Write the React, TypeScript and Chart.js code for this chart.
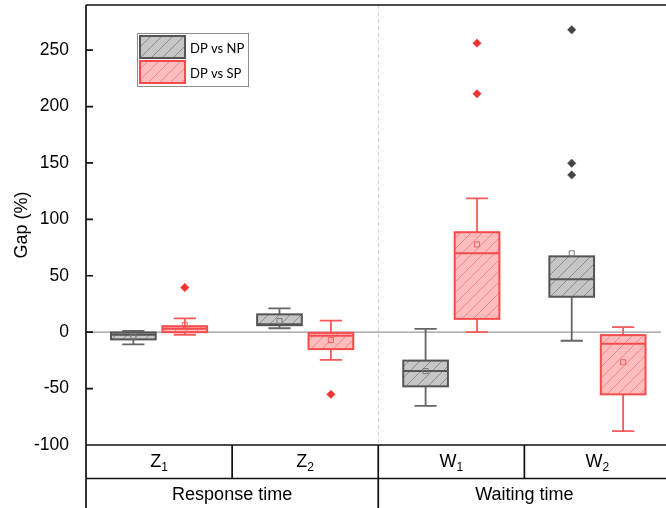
import React, { useEffect, useRef } from 'react';
import { Chart, registerables } from 'chart.js';

Chart.register(...registerables);

// ---------- data ----------
const categoryLetters = ['Z', 'Z', 'W', 'W'];
const categorySubs = ['1', '2', '1', '2'];
const groupLabels = ['Response time', 'Waiting time'];
const groupCategoryCounts = [2, 2];
const seriesNames = ['DP vs NP', 'DP vs SP'];
const yTickValues = [-100, -50, 0, 50, 100, 150, 200, 250];

// DP vs NP
const npLow = [-10.8, 3.5, -65.4, -7.6];
const npQ1 = [-6.4, 6.2, -48.0, 31.4];
const npMedian = [-2.3, 7.0, -34.3, 47.0];
const npQ3 = [-0.3, 15.8, -25.2, 67.2];
const npHigh = [1.2, 21.1, 3.0, 67.2];
const npMean = [-3.8, 10.0, -34.5, 69.9];
const npOutliers: number[][] = [[], [], [], [268.0, 149.7, 139.4]];

// DP vs SP
const spLow = [-2.3, -24.6, 0.0, -87.7];
const spQ1 = [0.0, -15.0, 11.8, -55.1];
const spMedian = [3.0, -3.2, 69.9, -10.2];
const spQ3 = [5.3, -0.6, 88.6, -2.6];
const spHigh = [12.3, 10.3, 118.6, 4.4];
const spMean = [6.5, -7.0, 77.8, -26.7];
const spOutliers: number[][] = [[39.6], [-55.1], [256.2, 211.3], []];

// ---------- layout constants ----------
const X_MAX = 3.935; // visible part of the 4-category axis
const SERIES_OFFSET = 0.176;
const BOX_HALF = 0.153;
const CAP_HALF = 0.076;
const SANS = '"Liberation Sans", Arial, sans-serif';

const grayStyle = {
  fill: '#c6c6c6',
  hatch: '#8c8c8c',
  border: '#555555',
  whisker: '#666666',
  outlier: '#444444',
  mean: '#777777',
};
const redStyle = {
  fill: '#ffbcbc',
  hatch: '#f08a8a',
  border: '#f44c4c',
  whisker: '#f65a5a',
  outlier: '#f23333',
  mean: '#f26060',
};

function makeHatch(ctx: CanvasRenderingContext2D, bg: string, line: string) {
  const s = 11;
  const c = document.createElement('canvas');
  c.width = s;
  c.height = s;
  const g = c.getContext('2d')!;
  g.fillStyle = bg;
  g.fillRect(0, 0, s, s);
  g.strokeStyle = line;
  g.lineWidth = 1;
  g.beginPath();
  g.moveTo(0, s);
  g.lineTo(s, 0);
  g.moveTo(-2, 2);
  g.lineTo(2, -2);
  g.moveTo(s - 2, s + 2);
  g.lineTo(s + 2, s - 2);
  g.stroke();
  return ctx.createPattern(c, 'repeat')!;
}

export default function App() {
  const ref = useRef<HTMLCanvasElement>(null);

  useEffect(() => {
    document.body.style.margin = '0';
    const canvas = ref.current!;
    const ctx0 = canvas.getContext('2d')!;
    const grayPattern = makeHatch(ctx0, grayStyle.fill, grayStyle.hatch);
    const redPattern = makeHatch(ctx0, redStyle.fill, redStyle.hatch);

    const series = [
      { name: seriesNames[0], low: npLow, q1: npQ1, med: npMedian, q3: npQ3, high: npHigh, mean: npMean, out: npOutliers, off: -SERIES_OFFSET, st: grayStyle, pat: grayPattern },
      { name: seriesNames[1], low: spLow, q1: spQ1, med: spMedian, q3: spQ3, high: spHigh, mean: spMean, out: spOutliers, off: SERIES_OFFSET, st: redStyle, pat: redPattern },
    ];

    const datasets: any[] = [];
    series.forEach((s) => {
      datasets.push({
        label: s.name + ' outliers',
        data: s.out.flatMap((arr, i) => arr.map((v) => ({ x: i + 0.5 + s.off, y: v }))),
        pointStyle: 'rectRot',
        radius: 4.2,
        backgroundColor: s.st.outlier,
        borderColor: s.st.outlier,
        borderWidth: 0.5,
      });
      datasets.push({
        label: s.name + ' mean',
        data: s.mean.map((v, i) => ({ x: i + 0.5 + s.off, y: v })),
        pointStyle: 'rect',
        radius: 3.6,
        backgroundColor: 'rgba(0,0,0,0)',
        borderColor: s.st.mean,
        borderWidth: 1,
      });
    });

    const boxPlugin = {
      id: 'boxes',
      beforeDatasetsDraw(chart: any) {
        const { ctx, chartArea: ca, scales } = chart;
        const xs = scales.x;
        const ys = scales.y;
        ctx.save();
        ctx.beginPath();
        ctx.rect(ca.left, ca.top, ca.right - ca.left, ca.bottom - ca.top);
        ctx.clip();
        // zero line
        const y0 = ys.getPixelForValue(0);
        ctx.strokeStyle = '#999999';
        ctx.lineWidth = 1.2;
        ctx.beginPath();
        ctx.moveTo(ca.left, y0);
        ctx.lineTo(ca.right, y0);
        ctx.stroke();
        // dashed group separator
        let acc = 0;
        ctx.setLineDash([4, 3]);
        ctx.strokeStyle = '#d4d4d4';
        ctx.lineWidth = 1;
        for (let g = 0; g < groupCategoryCounts.length - 1; g++) {
          acc += groupCategoryCounts[g];
          const x = Math.round(xs.getPixelForValue(acc)) + 0.5;
          ctx.beginPath();
          ctx.moveTo(x, ca.top);
          ctx.lineTo(x, ca.bottom);
          ctx.stroke();
        }
        ctx.setLineDash([]);
        // boxes
        series.forEach((s) => {
          for (let i = 0; i < categoryLetters.length; i++) {
            const c = i + 0.5 + s.off;
            const xc = xs.getPixelForValue(c);
            const xl = xs.getPixelForValue(c - BOX_HALF);
            const xr = xs.getPixelForValue(c + BOX_HALF);
            const cl = xs.getPixelForValue(c - CAP_HALF);
            const cr = xs.getPixelForValue(c + CAP_HALF);
            const yLow = ys.getPixelForValue(s.low[i]);
            const yQ1 = ys.getPixelForValue(s.q1[i]);
            const yMed = ys.getPixelForValue(s.med[i]);
            const yQ3 = ys.getPixelForValue(s.q3[i]);
            const yHigh = ys.getPixelForValue(s.high[i]);
            ctx.strokeStyle = s.st.whisker;
            ctx.lineWidth = 1.8;
            ctx.beginPath();
            ctx.moveTo(xc, yHigh);
            ctx.lineTo(xc, yQ3);
            ctx.moveTo(xc, yQ1);
            ctx.lineTo(xc, yLow);
            if (s.high[i] > s.q3[i]) {
              ctx.moveTo(cl, yHigh);
              ctx.lineTo(cr, yHigh);
            }
            if (s.low[i] < s.q1[i]) {
              ctx.moveTo(cl, yLow);
              ctx.lineTo(cr, yLow);
            }
            ctx.stroke();
            ctx.fillStyle = s.pat;
            ctx.fillRect(xl, yQ3, xr - xl, yQ1 - yQ3);
            ctx.strokeStyle = s.st.border;
            ctx.lineWidth = 2;
            ctx.strokeRect(xl, yQ3, xr - xl, yQ1 - yQ3);
            ctx.beginPath();
            ctx.moveTo(xl, yMed);
            ctx.lineTo(xr, yMed);
            ctx.stroke();
          }
        });
        ctx.restore();
      },
      afterDraw(chart: any) {
        const { ctx, chartArea: ca, scales, width, height } = chart;
        const xs = scales.x;
        const ys = scales.y;
        ctx.save();
        ctx.strokeStyle = '#111111';
        ctx.lineWidth = 1.7;
        // left axis line through the whole table
        ctx.beginPath();
        ctx.moveTo(ca.left, ca.top);
        ctx.lineTo(ca.left, height);
        // top border
        ctx.moveTo(ca.left, ca.top);
        ctx.lineTo(width, ca.top);
        // bottom axis
        ctx.moveTo(ca.left, ca.bottom);
        ctx.lineTo(width, ca.bottom);
        const rowY = ca.bottom + 33.5;
        ctx.moveTo(ca.left, rowY);
        ctx.lineTo(width, rowY);
        // category dividers
        for (let i = 1; i < categoryLetters.length; i++) {
          const x = xs.getPixelForValue(i);
          ctx.moveTo(x, ca.bottom);
          ctx.lineTo(x, rowY);
        }
        // group dividers
        let acc = 0;
        for (let g = 0; g < groupCategoryCounts.length - 1; g++) {
          acc += groupCategoryCounts[g];
          const x = xs.getPixelForValue(acc);
          ctx.moveTo(x, rowY);
          ctx.lineTo(x, height);
        }
        // y ticks inward
        yTickValues.forEach((v) => {
          const y = ys.getPixelForValue(v);
          ctx.moveTo(ca.left, y);
          ctx.lineTo(ca.left + 7, y);
        });
        ctx.stroke();

        // category labels with subscript
        ctx.fillStyle = '#000';
        ctx.textBaseline = 'alphabetic';
        ctx.textAlign = 'left';
        const mainFont = '18px ' + SANS;
        const subFont = '12px ' + SANS;
        for (let i = 0; i < categoryLetters.length; i++) {
          const xc = xs.getPixelForValue(i + 0.5);
          ctx.font = mainFont;
          const w1 = ctx.measureText(categoryLetters[i]).width;
          ctx.font = subFont;
          const w2 = ctx.measureText(categorySubs[i]).width;
          const x0 = xc - (w1 + w2) / 2;
          ctx.font = mainFont;
          ctx.fillText(categoryLetters[i], x0, ca.bottom + 22);
          ctx.font = subFont;
          ctx.fillText(categorySubs[i], x0 + w1, ca.bottom + 25.5);
        }
        // group labels
        ctx.font = '18px ' + SANS;
        ctx.textAlign = 'center';
        acc = 0;
        groupLabels.forEach((lbl, g) => {
          const a = acc;
          const b = acc + groupCategoryCounts[g];
          acc = b;
          const xc = (xs.getPixelForValue(a) + xs.getPixelForValue(b)) / 2;
          ctx.fillText(lbl, xc, rowY + 21.5);
        });

        // legend
        const lx = ca.left + 51;
        const ly = ca.top + 28;
        ctx.strokeStyle = '#8c8c8c';
        ctx.lineWidth = 1;
        ctx.strokeRect(lx + 0.5, ly + 0.5, 111, 53);
        series.forEach((s, k) => {
          const sx = lx + 3;
          const sy = ly + 3 + k * 25;
          ctx.fillStyle = s.pat;
          ctx.fillRect(sx, sy, 45, 22);
          ctx.strokeStyle = s.st.border;
          ctx.lineWidth = 2;
          ctx.strokeRect(sx, sy, 45, 22);
          ctx.fillStyle = '#000';
          ctx.textAlign = 'left';
          ctx.font = '13px Lato, "Open Sans", sans-serif';
          ctx.fillText(s.name, lx + 53, sy + 17);
        });
        ctx.restore();
      },
    };

    const chart = new Chart(canvas, {
      type: 'scatter',
      data: { datasets },
      plugins: [boxPlugin],
      options: {
        animation: false,
        responsive: false,
        events: [],
        layout: { padding: { top: 3, right: 0, bottom: 0, left: 0 } },
        plugins: { legend: { display: false }, tooltip: { enabled: false } },
        scales: {
          x: {
            type: 'linear',
            min: 0,
            max: X_MAX,
            grid: { display: false },
            border: { display: false },
            ticks: { display: false },
            afterFit: (s: any) => {
              s.height = 63;
              s.paddingLeft = 0;
              s.paddingRight = 0;
            },
          },
          y: {
            type: 'linear',
            min: -100,
            max: 290,
            grid: { display: false },
            border: { display: false },
            ticks: {
              stepSize: 50,
              includeBounds: false,
              padding: 9,
              color: '#000',
              font: { family: SANS, size: 17.5 },
            },
            title: {
              display: true,
              text: 'Gap (%)',
              color: '#000',
              padding: { top: 11, bottom: 0 },
              font: { family: SANS, size: 18 },
            },
            afterFit: (s: any) => {
              s.width = 86;
              s.paddingTop = 0;
              s.paddingBottom = 0;
            },
          },
        },
      } as any,
    });
    return () => chart.destroy();
  }, []);

  return (
    <div style={{ width: 666, height: 508 }}>
      <canvas ref={ref} width={666} height={508} style={{ display: 'block' }} />
    </div>
  );
}
